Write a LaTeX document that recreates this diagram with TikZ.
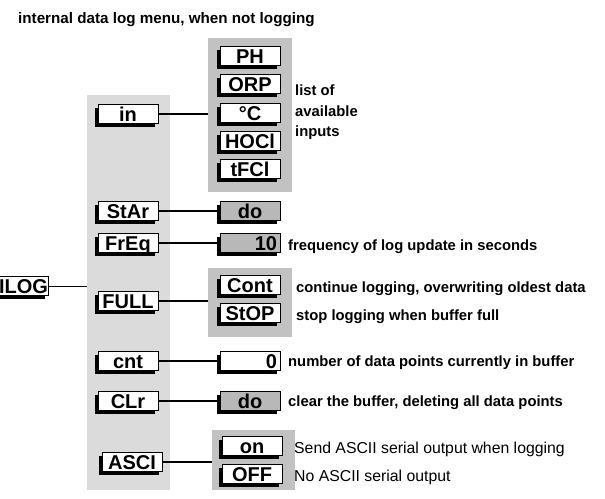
\documentclass[tikz,border=0pt]{standalone}
\usepackage{fontspec}
\setmainfont{Liberation Sans}
\usetikzlibrary{shadows}

\definecolor{colgray}{gray}{0.86}
\definecolor{grpgray}{gray}{0.76}
\definecolor{dogray}{gray}{0.72}

\tikzset{
  menu/.style={draw, line width=0.8pt, fill=white, minimum width=60pt, minimum height=19pt,
    inner sep=0pt, text height=14pt, text depth=0pt,
    font=\fontsize{20}{21}\selectfont\bfseries,
    general shadow={shadow xshift=-3.5pt, shadow yshift=-3pt, fill=black}},
  dobox/.style={menu, fill=dogray},
  numval/.style={menu, text width=54pt, align=right},
  grpbox/.style={anchor=north west, fill=grpgray, inner sep=0pt},
  link/.style={line width=1.8pt},
  note/.style={anchor=base west, inner sep=0pt, font=\fontsize{14.8}{16}\selectfont\bfseries},
  notethin/.style={anchor=base west, inner sep=0pt, font=\fontsize{15.8}{17}\selectfont},
}

\begin{document}
\begin{tikzpicture}[x=1pt, y=-1pt]
    \useasboundingbox (0,0) rectangle (605,498);

    \node[note, font=\fontsize{15.2}{16}\selectfont\bfseries] (title) at (18,23) {internal data log menu, when not logging};

    % backgrounds
    \node[anchor=north west, fill=colgray, inner sep=0pt, minimum width=83pt, minimum height=395pt] (col) at (87,95) {};
    \node[grpbox, minimum width=84pt, minimum height=154pt] (ingrp) at (208,38) {};
    \node[grpbox, minimum width=84pt, minimum height=69pt] (fullgrp) at (208,268) {};
    \node[grpbox, minimum width=83pt, minimum height=60pt] (ascgrp) at (212,430) {};

    % main entry
    \node[menu, text width=60pt, align=right] (ilog) at (18,286) {ILOG};

    % sub menu
    \node[menu] (inmenu) at (128,114) {in};
    \node[menu] (star) at (128,211) {StAr};
    \node[menu] (freq) at (128,243) {FrEq};
    \node[menu] (full) at (128,301) {FULL};
    \node[menu] (cnt) at (128,361) {cnt};
    \node[menu] (clr) at (128,401) {CLr};
    \node[menu] (asci) at (132,462) {ASCI};

    % inputs
    \node[menu] (ph) at (250,56) {PH};
    \node[menu] (orp) at (250,84) {ORP};
    \node[menu] (degc) at (250,113) {°C};
    \node[menu] (hocl) at (250,141) {HOCl};
    \node[menu] (tfcl) at (250,169) {tFCl};

    % values
    \node[dobox] (stardo) at (250,211) {do};
    \node[numval, fill=dogray] (freqval) at (250,243) {10};
    \node[menu] (cont) at (250,285) {Cont};
    \node[menu] (stop) at (250,313) {StOP};
    \node[numval] (cntval) at (250,361) {0};
    \node[dobox] (clrdo) at (250,401) {do};
    \node[menu] (ason) at (252,446) {on};
    \node[menu] (asoff) at (252,474) {OFF};

    % notes
    \node[note] (listof) at (295,95) {list of};
    \node[note] (avail) at (295,116) {available};
    \node[note] (inputs) at (295,136) {inputs};
    \node[note] (freqnote) at (288,250) {frequency of log update in seconds};
    \node[note] (contnote) at (296,292) {continue logging, overwriting oldest data};
    \node[note] (stopnote) at (296,320) {stop logging when buffer full};
    \node[note] (cntnote) at (288,366) {number of data points currently in buffer};
    \node[note] (clrnote) at (288,406) {clear the buffer, deleting all data points};
    \node[notethin] (onnote) at (294,453) {Send ASCII serial output when logging};
    \node[notethin] (offnote) at (294,481) {No ASCII serial output};

    % connectors
    \draw[line width=0.9pt] (ilog) -- (ilog -| col.west);
    \draw[link] (inmenu) -- (inmenu -| ingrp.west);
    \draw[link] (star) -- (stardo);
    \draw[link] (freq) -- (freqval);
    \draw[link] (full) -- (full -| fullgrp.west);
    \draw[link] (cnt) -- (cntval);
    \draw[link] (clr) -- (clrdo);
    \draw[link] (asci) -- (asci -| ascgrp.west);
\end{tikzpicture}
\end{document}
